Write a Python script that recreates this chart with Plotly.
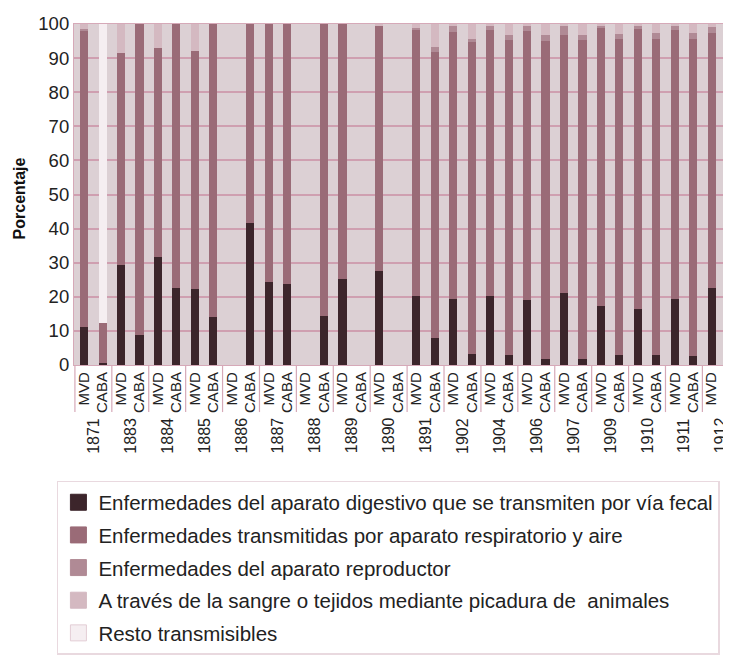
import plotly.graph_objects as go

years = ["1871", "1883", "1884", "1885", "1886", "1887", "1888", "1889", "1890",
         "1891", "1902", "1904", "1906", "1907", "1909", "1910", "1911", "1912"]
cities = ["MVD", "CABA"]

# values per bar, order: year1 MVD, year1 CABA, year2 MVD, ...
digestivo = [11.2, 0.5, 29.4, 8.9, 31.8, 22.6, 22.3, 14.1, None, 41.7,
             24.3, 23.8, None, 14.5, 25.3, None, 27.5, None,
             20.1, 7.8, 19.4, 3.3, 20.1, 2.9, 19.0, 1.7, 21.1, 1.7,
             17.2, 2.9, 16.4, 2.9, 19.3, 2.5, 22.7, 4.4]
respiratorio = [86.9, 11.7, 62.1, 91.1, 61.2, 77.4, 69.7, 85.9, None, 58.3,
                75.7, 76.2, None, 85.5, 74.7, None, 72.2, None,
                78.2, 84.1, 78.2, 91.4, 78.2, 92.5, 78.9, 93.3, 75.7, 93.7,
                81.5, 92.7, 82.1, 92.7, 79.0, 93.1, 74.7, 92.6]
reproductor = [0.4, 0, 0, 0, 0, 0, 0, 0, None, 0,
               0, 0, None, 0, 0, None, 0, None,
               0.5, 1.3, 2.1, 1.0, 1.4, 1.3, 1.8, 1.7, 2.9, 1.4,
               1.0, 1.5, 1.2, 1.8, 1.4, 1.9, 1.8, 2.0]
sangre = [1.5, 0, 8.5, 0, 7.0, 0, 8.0, 0, None, 0,
          0, 0, None, 0, 0, None, 0.3, None,
          1.2, 6.8, 0.3, 4.3, 0.3, 3.3, 0.3, 3.3, 0.3, 3.2,
          0.3, 2.9, 0.3, 2.6, 0.3, 2.5, 0.8, 1.0]
resto = [0, 87.8] + [0] * 34

series_names = [
    "Enfermedades del aparato digestivo que se transmiten por vía fecal",
    "Enfermedades transmitidas por aparato respiratorio y aire",
    "Enfermedades del aparato reproductor",
    "A través de la sangre o tejidos mediante picadura de  animales",
    "Resto transmisibles",
]
y_title = "Porcentaje"
series_values = [digestivo, respiratorio, reproductor, sangre, resto]
series_colors = ["#3c252b", "#9a6b77", "#b08a95", "#d4b9c1", "#f5eef1"]
swatch_lines = ["#3c252b", "#9a6b77", "#b08a95", "#d4b9c1", "#e3cdd5"]

tick_text = [c for y in years for c in cities]
x_idx = list(range(len(tick_text)))

fig = go.Figure()
for i, (name, vals, col) in enumerate(zip(series_names, series_values, series_colors)):
    fig.add_trace(go.Bar(
        x=x_idx, y=vals, name=name, width=0.44,
        marker=dict(color=col, line=dict(width=0)),
        legendgroup=f"g{i}", showlegend=False,
    ))
# legend swatches (larger squares than the default bar legend symbol)
for i, (name, col, lc) in enumerate(zip(series_names, series_colors, swatch_lines)):
    fig.add_trace(go.Scatter(
        x=[None], y=[None], mode="markers", name=name,
        marker=dict(symbol="square", size=16, color=col, line=dict(color=lc, width=1)),
        legendgroup=f"g{i}", showlegend=True,
    ))

GRID = "#cf9fb0"
AXLINE = "#d6a9b8"

annotations = []
shapes = []
for i, yr in enumerate(years):
    annotations.append(dict(
        x=2 * i + 0.5, xref="x", y=-0.148, yref="paper",
        text=yr, showarrow=False, textangle=-90,
        xanchor="center", yanchor="top",
        font=dict(family="Liberation Sans, Arial", size=16, color="#222"),
    ))
    shapes.append(dict(
        type="line", xref="x", yref="paper",
        x0=2 * i - 0.5, x1=2 * i - 0.5, y0=0, y1=-0.138,
        line=dict(color=AXLINE, width=1.2),
    ))
annotations.append(dict(
    x=-0.083, xref="paper", y=0.49, yref="paper",
    text=f"<b>{y_title}</b>", showarrow=False, textangle=-90,
    xanchor="center", yanchor="middle",
    font=dict(family="Liberation Sans, Arial", size=16, color="#111"),
))

fig.update_layout(
    width=723, height=649,
    margin=dict(l=66, r=0, t=16, b=292),
    barmode="stack",
    paper_bgcolor="white",
    plot_bgcolor="#dcd0d4",
    font=dict(family="Liberation Sans, Arial", color="#222"),
    showlegend=True,
    legend=dict(
        x=-0.026, xanchor="left", y=-0.34, yanchor="top",
        bordercolor="#e9d9df", borderwidth=1.5, bgcolor="white",
        font=dict(family="Liberation Sans, Arial", size=20.5, color="#222"),
        tracegroupgap=3, traceorder="grouped", itemsizing="trace",
    ),
    annotations=annotations,
    shapes=shapes,
    xaxis=dict(
        range=[-0.55, 35.05], automargin=False,
        tickmode="array", tickvals=x_idx, ticktext=tick_text,
        tickangle=-90, ticks="", showgrid=False, zeroline=False,
        tickfont=dict(family="Liberation Sans, Arial", size=15, color="#222"),
        showline=True, linecolor=AXLINE, linewidth=1.2, mirror=True,
    ),
    yaxis=dict(
        range=[0, 100], tickmode="linear", tick0=0, dtick=10, automargin=False,
        showgrid=True, gridcolor=GRID, gridwidth=1.5, zeroline=False,
        tickfont=dict(family="Liberation Sans, Arial", size=18.5, color="#222"),
        showline=True, linecolor=AXLINE, linewidth=1.2, mirror=True,
        ticks="",
    ),
)

fig.write_html("out.html")
